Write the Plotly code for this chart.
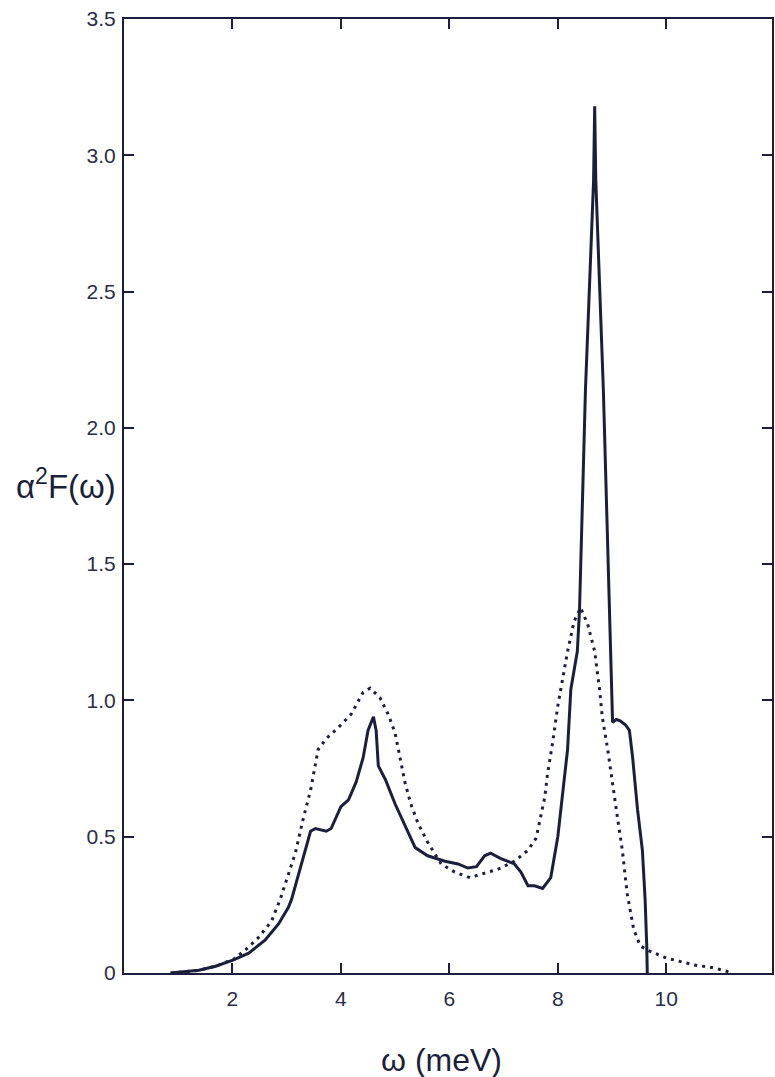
import plotly.graph_objects as go

INK = "#1b1f3b"

# Solid curve (omega in meV, alpha^2 F)
solid_w = [0.86, 1.38, 1.69, 2.02, 2.3, 2.6, 2.85, 3.03, 3.09, 3.27, 3.44, 3.53, 3.73, 3.82,
           4.0, 4.14, 4.28, 4.41, 4.5, 4.6, 4.65, 4.69, 4.82, 5.0, 5.18, 5.37, 5.6, 5.92,
           6.16, 6.34, 6.5, 6.65, 6.76, 6.95, 7.2, 7.32, 7.45, 7.57, 7.72, 7.87, 8.0, 8.09,
           8.18, 8.24, 8.36, 8.40, 8.51, 8.60, 8.66, 8.68, 8.70, 8.84, 8.95, 9.0, 9.01,
           9.08, 9.15, 9.25, 9.32, 9.38, 9.47, 9.56, 9.61, 9.64, 9.65]
solid_a = [0.0, 0.01, 0.025, 0.048, 0.073, 0.12, 0.18, 0.24, 0.27, 0.40, 0.52, 0.53, 0.52, 0.53,
           0.61, 0.635, 0.70, 0.79, 0.89, 0.94, 0.89, 0.76, 0.71, 0.62, 0.54, 0.46, 0.43, 0.41,
           0.40, 0.385, 0.39, 0.43, 0.44, 0.42, 0.40, 0.37, 0.32, 0.32, 0.31, 0.35, 0.50, 0.66,
           0.82, 1.04, 1.18, 1.33, 2.14, 2.60, 2.91, 3.18, 2.91, 2.14, 1.33, 1.04, 0.92,
           0.93, 0.925, 0.91, 0.89, 0.79, 0.60, 0.45, 0.27, 0.10, 0.0]

# Dotted curve
dot_w = [0.86, 1.38, 1.69, 2.02, 2.24, 2.48, 2.72, 2.88, 3.16, 3.31, 3.44, 3.58, 3.73, 3.95,
         4.19, 4.41, 4.54, 4.72, 4.87, 5.0, 5.09, 5.18, 5.29, 5.42, 5.6, 5.85, 6.1, 6.38,
         6.71, 6.89, 7.2, 7.45, 7.6, 7.68, 7.76, 7.81, 7.9, 8.0, 8.05, 8.18, 8.30, 8.42,
         8.55, 8.68, 8.77, 8.82, 8.92, 9.0, 9.1, 9.19, 9.28, 9.4, 9.52, 9.65, 10.0, 10.5,
         10.9, 11.15]
dot_a = [0.0, 0.01, 0.025, 0.05, 0.085, 0.13, 0.19, 0.27, 0.44, 0.57, 0.67, 0.82, 0.86, 0.90,
         0.95, 1.03, 1.045, 1.01, 0.95, 0.88, 0.79, 0.70, 0.62, 0.55, 0.48, 0.40, 0.37, 0.35,
         0.37, 0.38, 0.41, 0.45, 0.495, 0.57, 0.645, 0.73, 0.84, 0.98, 1.04, 1.18, 1.29, 1.34,
         1.28, 1.18, 1.04, 0.94, 0.82, 0.70, 0.57, 0.45, 0.29, 0.16, 0.10, 0.084, 0.055, 0.03,
         0.018, 0.004]

x_ticks = [2, 4, 6, 8, 10]
x_tick_text = ["2", "4", "6", "8", "10"]
y_ticks = [0, 0.5, 1.0, 1.5, 2.0, 2.5, 3.0, 3.5]
y_tick_text = ["0", "0.5", "1.0", "1.5", "2.0", "2.5", "3.0", "3.5"]

FONT = "Liberation Sans, Arial, sans-serif"

fig = go.Figure()
fig.add_trace(go.Scatter(x=dot_w, y=dot_a, mode="lines",
                         line=dict(color=INK, width=3, dash="3px,5px"), showlegend=False))
fig.add_trace(go.Scatter(x=solid_w, y=solid_a, mode="lines",
                         line=dict(color=INK, width=3), showlegend=False))

axis_common = dict(showgrid=False, zeroline=False, showline=True, linecolor=INK, linewidth=2,
                   mirror="allticks", ticks="inside", ticklen=10, tickwidth=2, tickcolor=INK,
                   tickfont=dict(family=FONT, size=21, color="#2a2e45"))

fig.update_xaxes(range=[0, 11.95], tickvals=x_ticks, ticktext=x_tick_text,
                 ticklabelstandoff=6, **axis_common)
fig.update_yaxes(range=[0, 3.5], tickvals=y_ticks, ticktext=y_tick_text,
                 ticklabelstandoff=2, **axis_common)

fig.add_annotation(text="ω (meV)", xref="paper", yref="paper", x=0.49, y=-0.07,
                   showarrow=False, yanchor="top", xanchor="center",
                   font=dict(family=FONT, size=32, color=INK))
fig.add_annotation(text="α<sup>2</sup>F(ω)", xref="paper", yref="paper", x=-0.01, y=0.513,
                   showarrow=False, xanchor="right", yanchor="middle",
                   font=dict(family=FONT, size=33, color=INK))

fig.update_layout(width=775, height=1077, margin=dict(l=124, r=1, t=19, b=104),
                  paper_bgcolor="white", plot_bgcolor="white")

fig.write_html("out.html")
